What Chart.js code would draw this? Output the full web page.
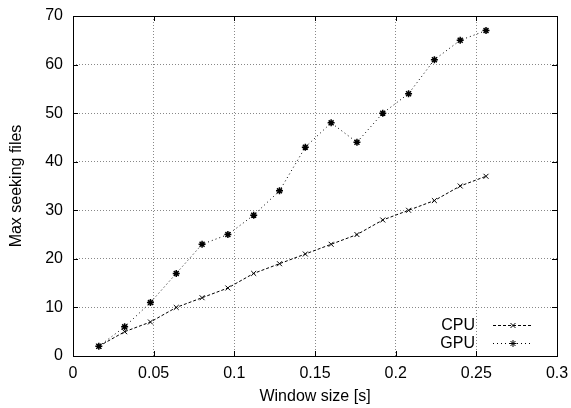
<!DOCTYPE html>
<html>
<head>
<meta charset="utf-8">
<script src="https://cdn.jsdelivr.net/npm/chart.js@4/dist/chart.umd.min.js"></script>
<style>
  html, body { margin: 0; padding: 0; background: #fff; }
  #wrap { width: 571px; height: 408px; }
</style>
</head>
<body>
<div id="wrap"><canvas id="c" width="571" height="408"></canvas></div>
<script>
// data
const windowSizes = [0.016, 0.032, 0.048, 0.064, 0.080, 0.096, 0.112, 0.128,
                     0.144, 0.160, 0.176, 0.192, 0.208, 0.224, 0.240, 0.256];
const cpuFiles = [2, 5, 7, 10, 12, 14, 17, 19, 21, 23, 25, 28, 30, 32, 35, 37];
const gpuFiles = [2, 6, 11, 17, 23, 25, 29, 34, 43, 48, 44, 50, 54, 61, 65, 67];
const xTicks = [0, 0.05, 0.1, 0.15, 0.2, 0.25, 0.3];
const yTicks = [0, 10, 20, 30, 40, 50, 60, 70];

const FONT = 'Liberation Sans, Arial, Helvetica, sans-serif';
const pts = (ys) => windowSizes.map((x, i) => ({ x, y: ys[i] }));

// gnuplot-style frame: full box + inward tick marks + legend in bottom right
const framePlugin = {
  id: 'frame',
  afterDatasetsDraw(chart) {
    const { ctx, chartArea: a, scales } = chart;
    ctx.save();
    ctx.strokeStyle = '#000';
    ctx.lineWidth = 1;
    ctx.setLineDash([]);
    ctx.strokeRect(Math.round(a.left) + 0.5, Math.round(a.top) + 0.5,
                   Math.round(a.right - a.left), Math.round(a.bottom - a.top));
    ctx.beginPath();
    xTicks.forEach(v => {
      const px = Math.round(scales.x.getPixelForValue(v)) + 0.5;
      ctx.moveTo(px, a.bottom); ctx.lineTo(px, a.bottom - 5);
      ctx.moveTo(px, a.top); ctx.lineTo(px, a.top + 5);
    });
    yTicks.forEach(v => {
      const py = Math.round(scales.y.getPixelForValue(v)) + 0.5;
      ctx.moveTo(a.left, py); ctx.lineTo(a.left + 5, py);
      ctx.moveTo(a.right, py); ctx.lineTo(a.right - 5, py);
    });
    ctx.stroke();

    // legend
    ctx.font = '16px ' + FONT;
    ctx.textAlign = 'right';
    ctx.textBaseline = 'middle';
    chart.data.datasets.forEach((ds, i) => {
      const y = a.bottom - 31 + i * 18;
      const xText = a.right - 82;
      ctx.fillStyle = '#000';
      ctx.fillText(ds.label, xText, y + 1);
      ctx.strokeStyle = ds.borderColor;
      ctx.lineWidth = 1;
      ctx.setLineDash(ds.borderDash);
      ctx.beginPath();
      ctx.moveTo(xText + 18, Math.round(y) + 0.5);
      ctx.lineTo(xText + 56, Math.round(y) + 0.5);
      ctx.stroke();
      ctx.setLineDash([]);
      Chart.helpers.drawPoint(ctx, {
        pointStyle: ds.pointStyle, radius: ds.pointRadius, borderWidth: ds.pointBorderWidth
      }, xText + 38, Math.round(y) + 0.5);
    });
    ctx.restore();
  }
};

new Chart(document.getElementById('c'), {
  type: 'scatter',
  data: {
    datasets: [
      {
        label: 'CPU',
        data: pts(cpuFiles),
        showLine: true,
        borderColor: '#000',
        backgroundColor: '#000',
        borderWidth: 1,
        borderDash: [3, 2],
        pointStyle: 'crossRot',
        pointRadius: 3.5,
        pointBorderWidth: 1,
      },
      {
        label: 'GPU',
        data: pts(gpuFiles),
        showLine: true,
        borderColor: '#000',
        backgroundColor: '#000',
        borderWidth: 1,
        borderDash: [1, 3],
        pointStyle: 'star',
        pointRadius: 3.5,
        pointBorderWidth: 1.5,
      },
    ],
  },
  options: {
    responsive: false,
    animation: false,
    layout: { padding: { top: 16, right: 14, left: 0, bottom: 0 } },
    plugins: { legend: { display: false }, tooltip: { enabled: false } },
    scales: {
      x: {
        type: 'linear',
        min: 0, max: 0.3,
        afterBuildTicks: (s) => { s.ticks = xTicks.map(v => ({ value: v })); },
        afterFit: (s) => { s.height = 52; s.paddingLeft = 0; s.paddingRight = 0; },
        ticks: {
          color: '#000', font: { family: FONT, size: 16 }, padding: 8,
          maxRotation: 0,
          callback: (v) => String(Number(v.toFixed(2))),
        },
        grid: { color: '#888', borderDash: [1, 2], drawTicks: false },
        border: { display: false, dash: [1, 2] },
        title: {
          display: true, text: 'Window size [s]', color: '#000',
          font: { family: FONT, size: 16 }, padding: { top: 0, bottom: 2 },
        },
      },
      y: {
        type: 'linear',
        min: 0, max: 70,
        afterBuildTicks: (s) => { s.ticks = yTicks.map(v => ({ value: v })); },
        afterFit: (s) => { s.width = 73; s.paddingTop = 0; s.paddingBottom = 0; },
        ticks: {
          color: '#000', font: { family: FONT, size: 16 }, padding: 10,
        },
        grid: { color: '#888', borderDash: [1, 2], drawTicks: false },
        border: { display: false, dash: [1, 2] },
        title: {
          display: true, text: 'Max seeking files', color: '#000',
          font: { family: FONT, size: 16 }, padding: { top: 7, bottom: 0 },
        },
      },
    },
  },
  plugins: [framePlugin],
});
</script>
</body>
</html>
